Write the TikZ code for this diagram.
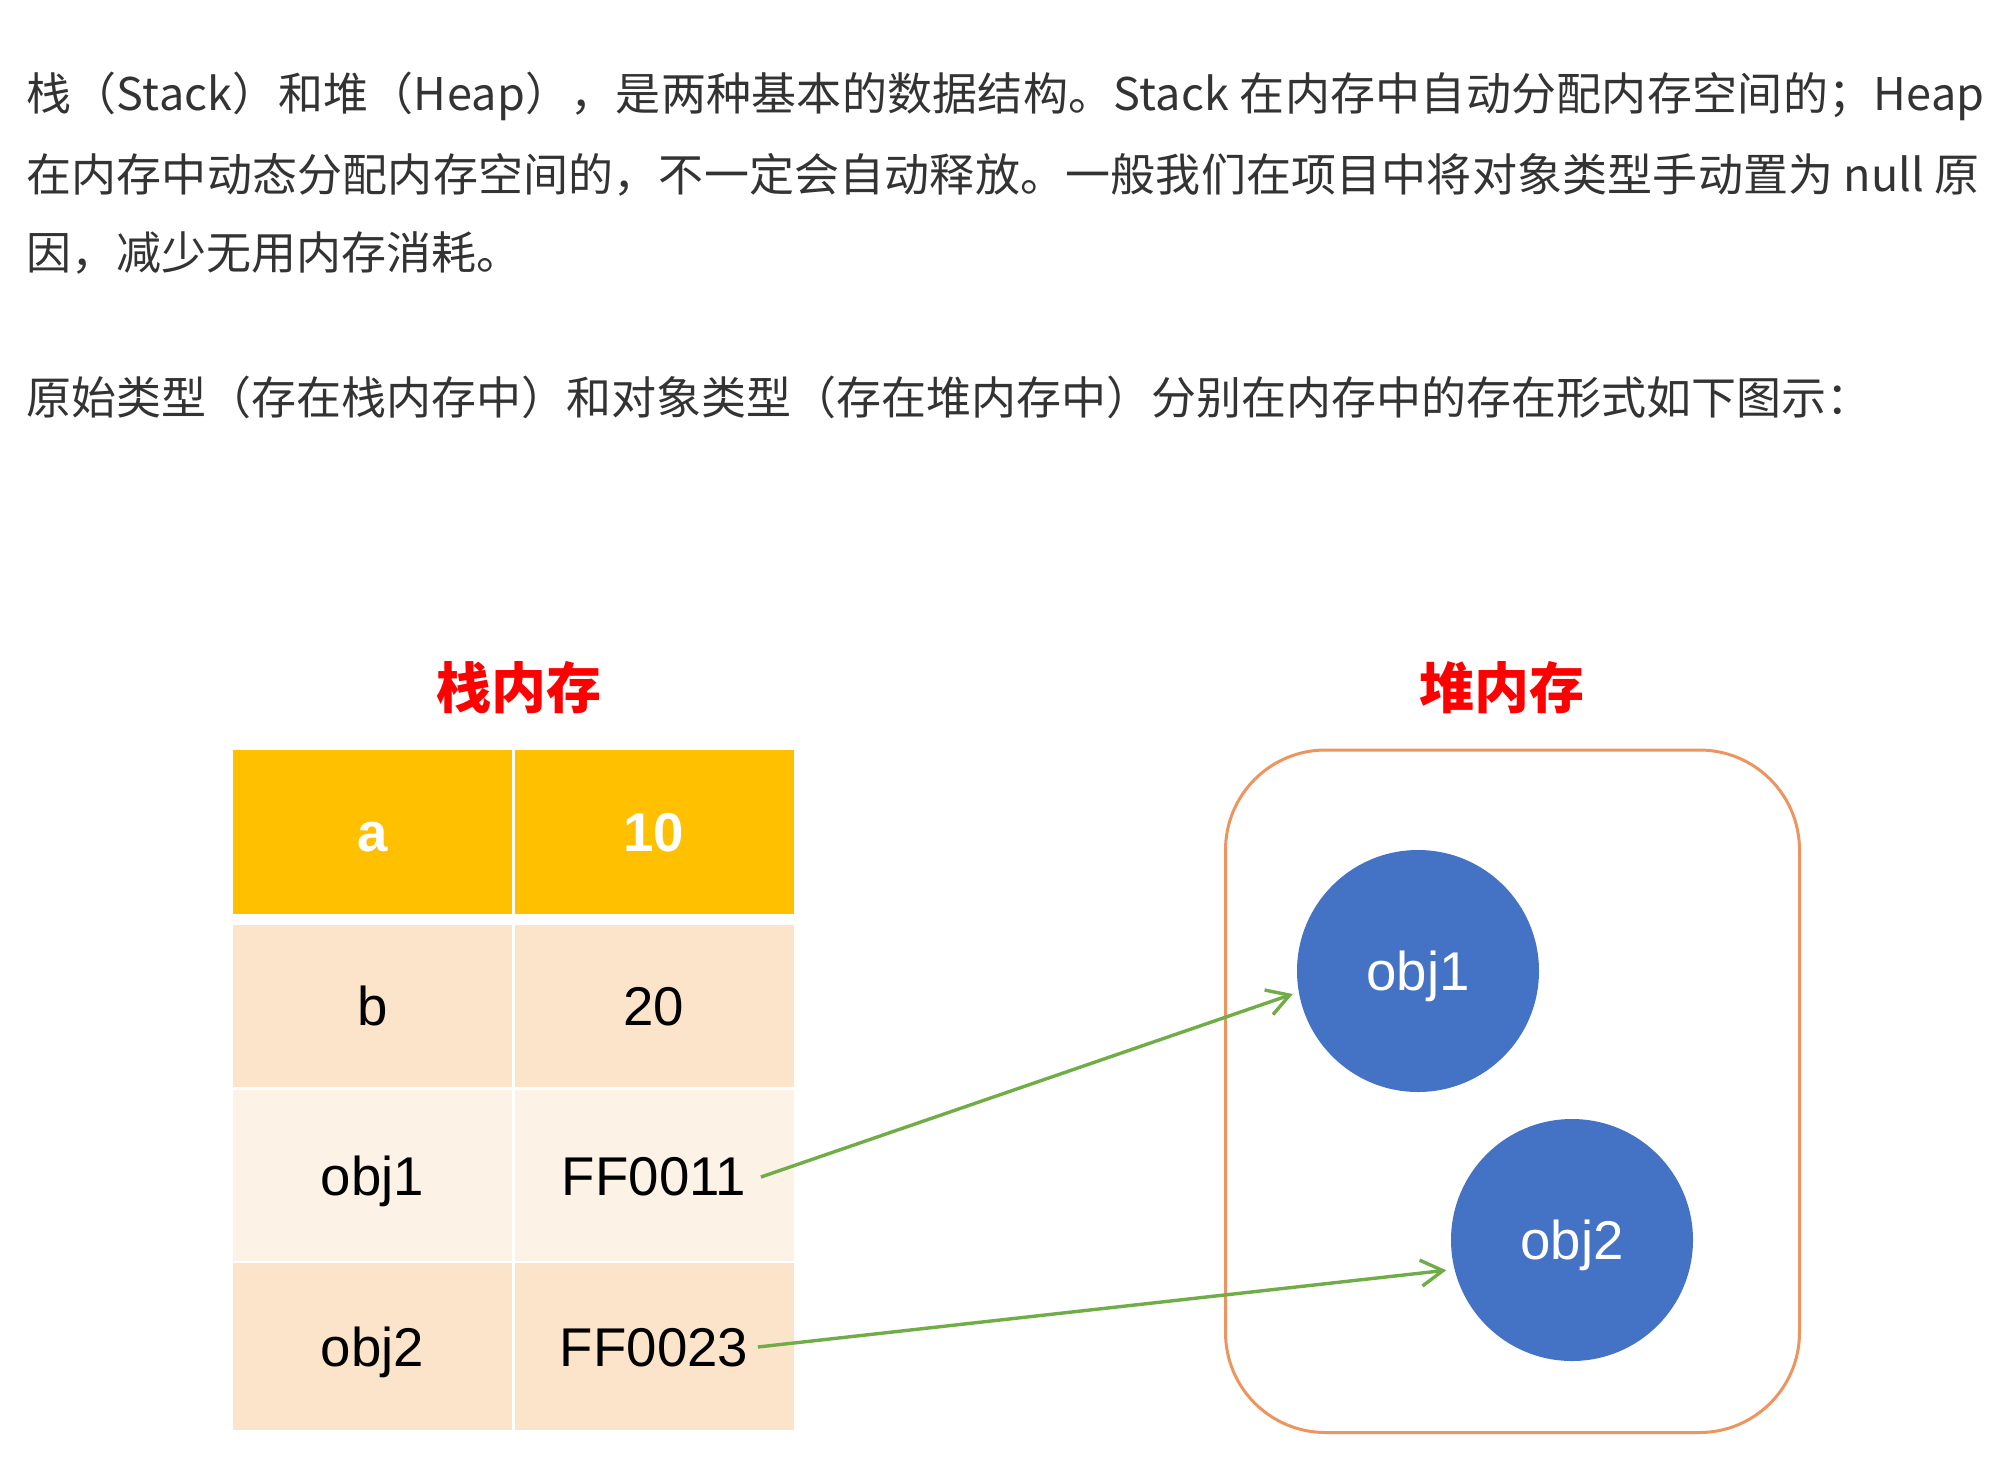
\documentclass[tikz,border=0pt]{standalone}
\usepackage{fontspec}
\setmainfont{Liberation Sans}
\newfontfamily\cjk{Noto Sans CJK SC}
\usetikzlibrary{arrows.meta,calc}
\definecolor{hdr}{HTML}{FFC000}
\definecolor{rowa}{HTML}{FCE4CA}
\definecolor{rowb}{HTML}{FDF2E6}
\definecolor{txt}{HTML}{333333}
\definecolor{heapline}{HTML}{EC955E}
\definecolor{objblue}{HTML}{4472C4}
\definecolor{ptrgreen}{HTML}{70AD47}
\tikzset{
  para/.style={anchor=west, inner sep=0pt, text=txt, font=\cjk\fontsize{22.5pt}{28pt}\selectfont},
  title/.style={text=red, font=\cjk\bfseries\fontsize{27.5pt}{32pt}\selectfont},
  cell/.style={minimum width=139.5pt, inner sep=0pt, text height=19.5pt, text depth=0pt, font=\fontsize{27.3pt}{32pt}\selectfont},
  obj/.style={circle, fill=objblue, minimum size=121pt, inner sep=0pt, text=white, text height=19.5pt, text depth=0pt, font=\fontsize{27.3pt}{32pt}\selectfont},
  ptr/.style={ptrgreen, line width=1.7pt, shorten >=3pt, -{Straight Barb[length=11pt,width=13pt]}}
}
\begin{document}
\begin{tikzpicture}[x=0.5pt,y=-0.5pt]
\useasboundingbox (0,0) rectangle (1992,1473);
\fill[white] (0,0) rectangle (1992,1473);

\node[para] (l1) at (26,96) {\addfontfeatures{LetterSpace=0.6}栈（Stack）和堆（Heap），是两种基本的数据结构。Stack 在内存中自动分配内存空间的；Heap};
\node[para] (l2) at (26,174.5) {\addfontfeatures{LetterSpace=0.4}在内存中动态分配内存空间的，不一定会自动释放。一般我们在项目中将对象类型手动置为 null 原};
\node[para] (l3) at (26,253) {因，减少无用内存消耗。};
\node[para] (l4) at (26,397.5) {原始类型（存在栈内存中）和对象类型（存在堆内存中）分别在内存中的存在形式如下图示：};

\node[title] (stk) at (519,688) {栈内存};
\node[title] (hp) at (1502,688) {堆内存};

\node[cell, fill=hdr, minimum height=81.75pt, text=white, font=\bfseries\fontsize{27.3pt}{32pt}\selectfont] (k1) at (372.5,831.75) {a};
\node[cell, fill=hdr, minimum height=81.75pt, text=white, font=\bfseries\fontsize{27.3pt}{32pt}\selectfont] (v1) at (654,831.75) {10};
\foreach \k/\v/\y/\h/\c/\i in {b/20/1005.75/162.5/rowa/2, obj1/FF0011/1175.5/171/rowb/3, obj2/FF0023/1346.5/167/rowa/4}
{
  \pgfmathsetmacro\hh{\h/2}
  \node[cell, fill=\c, minimum height=\hh pt] (k\i) at (372.5,\y) {\k};
  \node[cell, fill=\c, minimum height=\hh pt] (v\i) at (654,\y) {\v};
}

\node[draw=heapline, line width=1.5pt, rounded corners=50pt, minimum width=287pt, minimum height=341.25pt] (heap) at (1512.5,1091.25) {};
\node[obj] (obj1) at (1418,971) {obj1};
\node[obj] (obj2) at (1572,1240) {obj2};

\coordinate (s1) at ([shift={(-33,1.5)}]v3.east);
\coordinate (s2) at ([shift={(-36,0.5)}]v4.east);
\draw[ptr] (s1) -- (obj1.190);
\draw[ptr, shorten >=4pt] (s2) -- (obj2.194);
\end{tikzpicture}
\end{document}
